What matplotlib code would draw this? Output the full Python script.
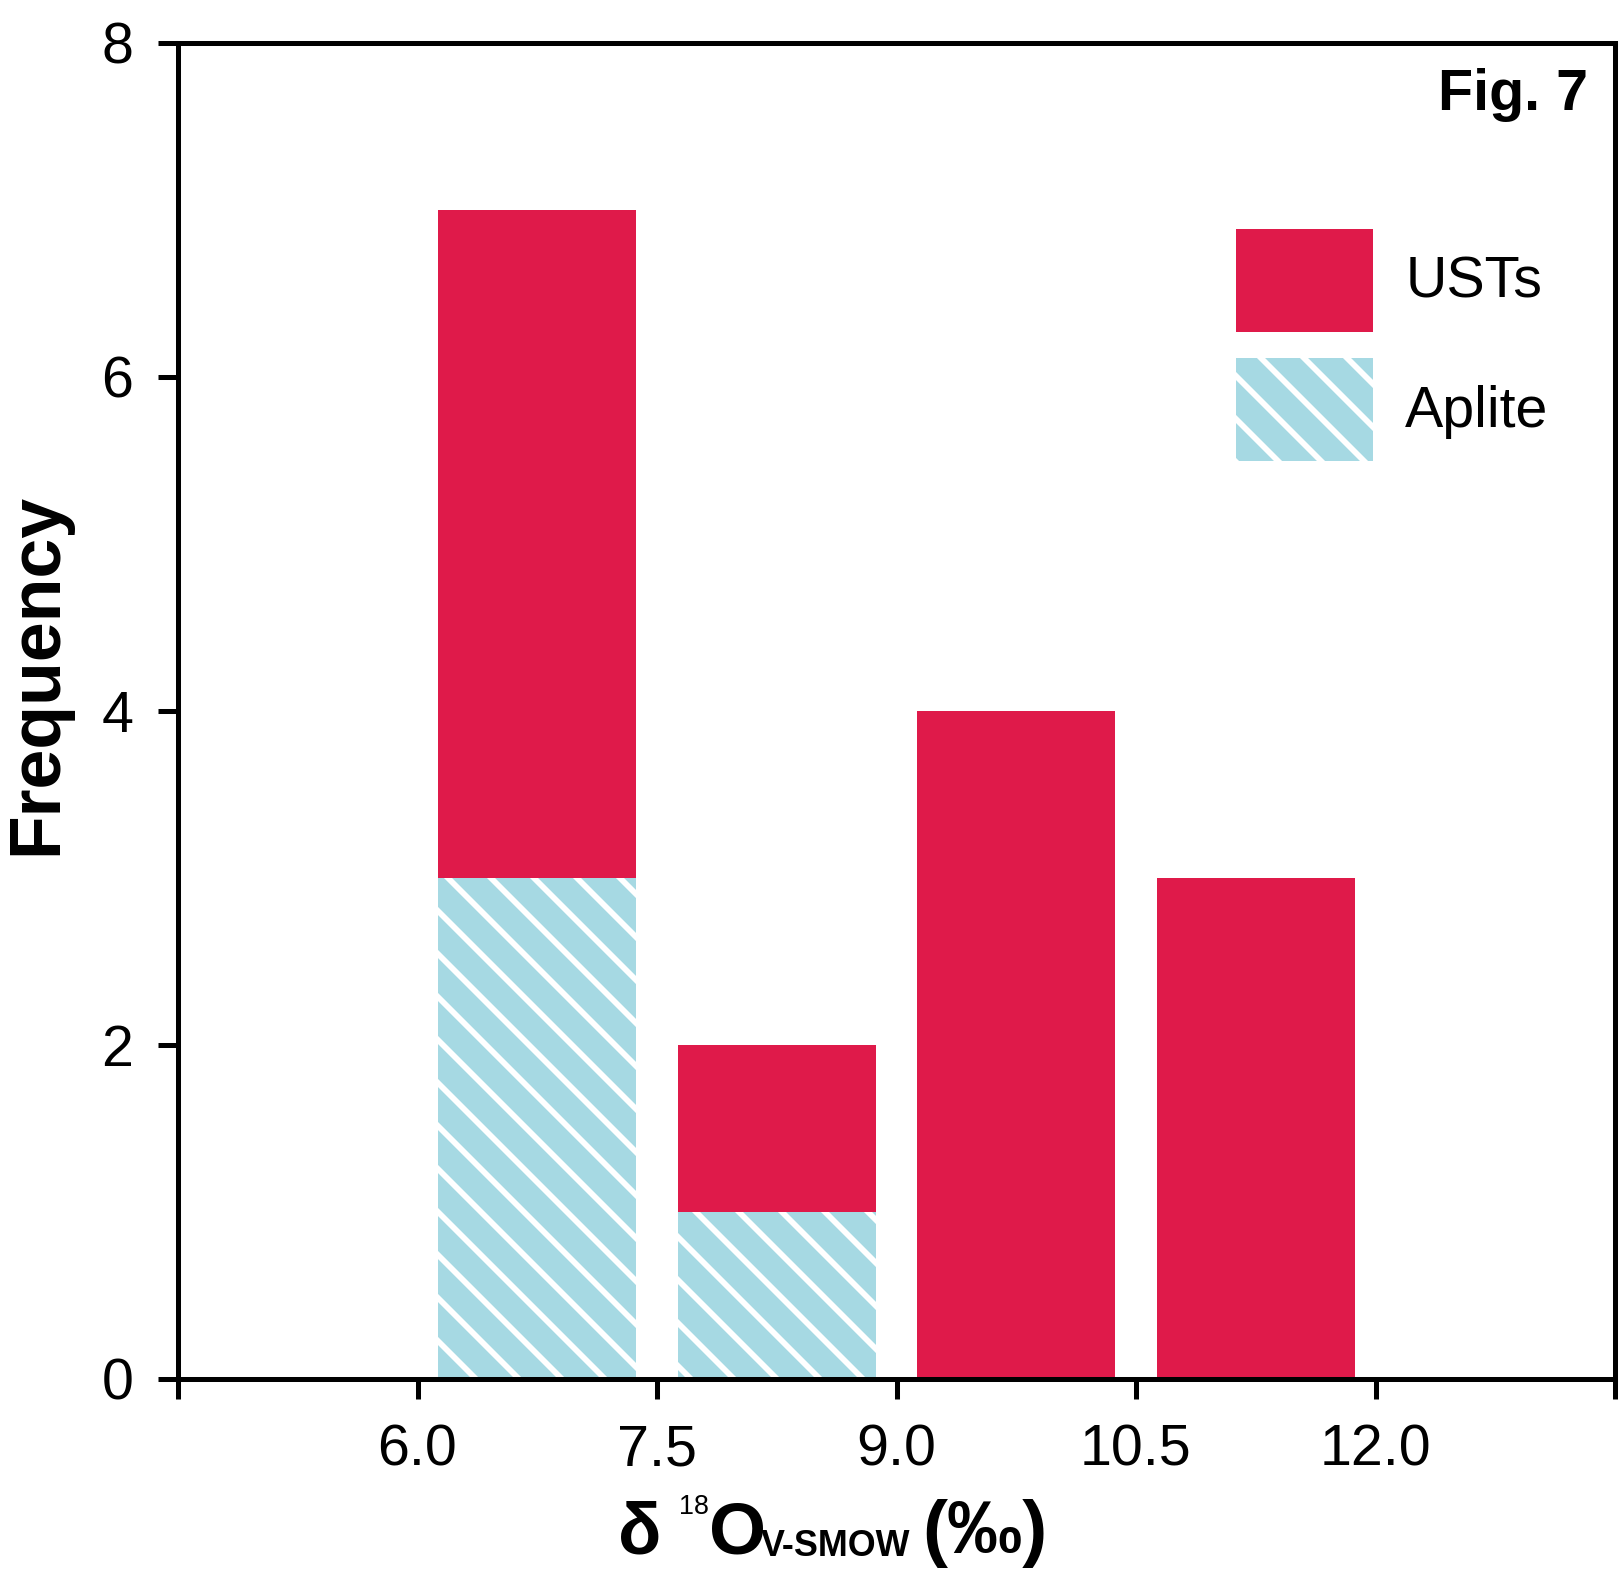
import matplotlib.pyplot as plt
from matplotlib.patches import Patch

plt.rcParams["font.family"] = ["Liberation Sans", "DejaVu Sans"]
plt.rcParams["hatch.linewidth"] = 1.6

# d18O histogram, bin centres and counts per lithology
BIN_CENTERS = [6.75, 8.25, 9.75, 11.25]
APLITE_COUNTS = [3, 1, 0, 0]
UST_COUNTS = [4, 1, 4, 3]

X_TICKS = [4.5, 6.0, 7.5, 9.0, 10.5, 12.0, 13.5]
X_TICK_LABELS = ["", "6.0", "7.5", "9.0", "10.5", "12.0", ""]
Y_TICKS = [0, 2, 4, 6, 8]

RED = "#DF1A4A"
BLUE = "#A6D9E3"
HATCH = "\\\\"

# hatch cell is one inch, so the dpi sets the stripe spacing
DPI = 258
W, H = 1623, 1575


def main() -> None:
    fig = plt.figure(figsize=(W / DPI, H / DPI), dpi=DPI)
    ax = fig.add_axes([178 / W, 1 - 1379 / H, 1437 / W, 1336 / H])

    ax.bar(BIN_CENTERS, APLITE_COUNTS, width=1.24, color=BLUE,
           edgecolor="white", linewidth=0, hatch=HATCH, zorder=2)
    ax.bar(BIN_CENTERS, UST_COUNTS, width=1.24, bottom=APLITE_COUNTS,
           color=RED, linewidth=0, zorder=2)

    ax.set_xlim(4.5, 13.5)
    ax.set_ylim(0, 8)
    ax.set_xticks(X_TICKS)
    ax.set_xticklabels(X_TICK_LABELS)
    ax.set_yticks(Y_TICKS)

    for spine in ax.spines.values():
        spine.set_linewidth(1.4)
    ax.tick_params(axis="both", direction="out", length=5.5, width=1.4,
                   labelsize=16, pad=7)

    ax.set_ylabel("Frequency", fontsize=20, fontweight="bold")
    ax.yaxis.set_label_coords(-0.074, 0.528)

    ax.text(0.981, 0.950, "Fig. 7", transform=ax.transAxes, ha="right",
            va="baseline", fontsize=16, fontweight="bold")

    handles = [
        Patch(facecolor=RED, linewidth=0, label="USTs"),
        Patch(facecolor=BLUE, edgecolor="white", linewidth=0, hatch=HATCH,
              label="Aplite"),
    ]
    ax.legend(handles=handles, loc="upper left", bbox_to_anchor=(0.736, 0.861),
              frameon=False, fontsize=16, borderpad=0, borderaxespad=0,
              handlelength=2.4, handleheight=2.39, labelspacing=0.46,
              handletextpad=0.56)

    # x label built piece by piece: small superscript and wide subscript
    base_y = 1 - 1553 / H

    def append_text(prev, s, size, dx_px=0.0, dy_px=0.0, weight="bold"):
        return ax.annotate(
            s, xy=(1, base_y), xycoords=(prev, "figure fraction"),
            xytext=(dx_px * 72 / DPI, dy_px * 72 / DPI),
            textcoords="offset points", fontsize=size, fontweight=weight,
            ha="left", va="baseline", annotation_clip=False)

    t = fig.text(618 / W, base_y, "δ", fontsize=20, fontweight="bold",
                 va="baseline", ha="left")
    t = append_text(t, "18", 7.5, dx_px=18, dy_px=39, weight="normal")
    t = append_text(t, "O", 20.5, dx_px=0)
    t = append_text(t, "V-SMOW", 10, dx_px=-6, dy_px=-3)
    append_text(t, "(‰)", 21, dx_px=12)

    fig.savefig("out.png", dpi=DPI)
    plt.close(fig)


if __name__ == "__main__":
    main()
